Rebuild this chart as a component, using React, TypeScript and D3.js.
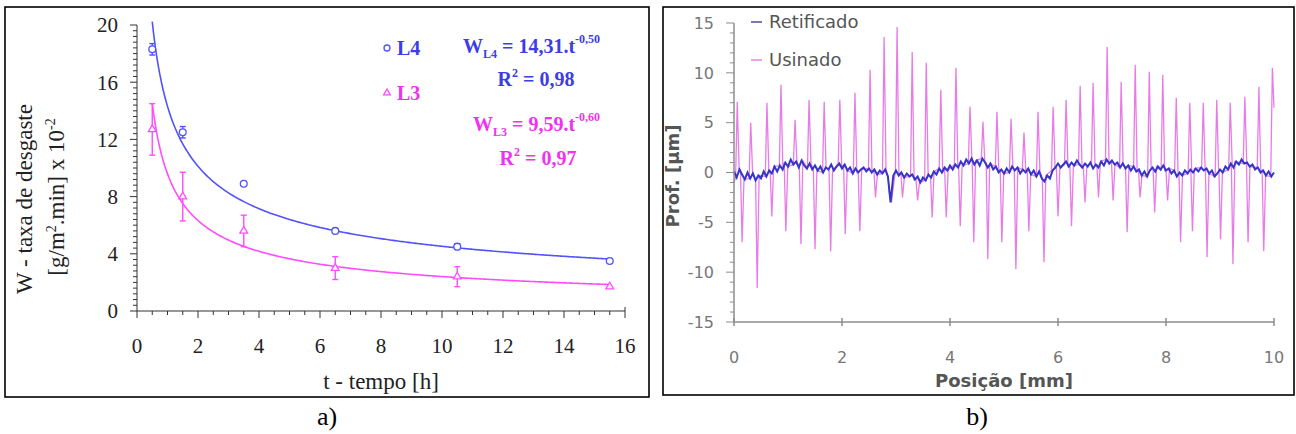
import React from 'react';
import * as d3 from 'd3';

// a) taxa de desgaste x tempo
const tempo = [0.5, 1.5, 3.5, 6.5, 10.5, 15.5];
const wL4 = [18.3, 12.5, 8.9, 5.6, 4.5, 3.5];
const wL4Err = [0.4, 0.4, 0, 0, 0.2, 0];
const wL3 = [12.7, 8.0, 5.6, 3.0, 2.4, 1.7];
const wL3Err = [1.8, 1.7, 1.1, 0.8, 0.7, 0];
const fitL4 = { a: 14.31, b: -0.5 };
const fitL3 = { a: 9.59, b: -0.6 };
const ticksT = [0, 2, 4, 6, 8, 10, 12, 14, 16];
const ticksW = [0, 4, 8, 12, 16, 20];

// b) perfil de rugosidade
const peakX = [0.06, 0.31, 0.61, 0.87, 1.13, 1.39, 1.67, 1.96, 2.24, 2.52, 2.78, 3.02, 3.30, 3.56, 3.83, 4.11, 4.37, 4.61, 4.87, 5.13, 5.37, 5.63, 5.91, 6.15, 6.41, 6.65, 6.91, 7.17, 7.43, 7.69, 7.94, 8.19, 8.44, 8.69, 8.94, 9.19, 9.46, 9.72, 9.97];
const peakY = [7.1, 5.0, 7.0, 8.8, 5.3, 7.3, 7.1, 7.3, 8.0, 10.3, 13.6, 14.6, 12.1, 11.0, 8.3, 10.5, 6.6, 5.1, 6.1, 5.4, 4.0, 6.1, 6.6, 7.3, 8.7, 9.0, 12.6, 9.1, 10.8, 10.1, 9.8, 7.5, 7.0, 7.0, 7.3, 7.0, 7.6, 8.6, 10.5];
const valleyX = [0.15, 0.43, 0.70, 0.96, 1.24, 1.50, 1.79, 2.06, 2.33, 2.62, 2.88, 3.12, 3.40, 3.67, 3.93, 4.19, 4.44, 4.70, 4.96, 5.22, 5.46, 5.74, 6.00, 6.25, 6.50, 6.75, 7.02, 7.28, 7.52, 7.79, 8.03, 8.27, 8.49, 8.76, 9.01, 9.24, 9.52, 9.81];
const valleyY = [-7.0, -11.6, -4.4, -5.9, -7.2, -7.7, -7.9, -6.2, -5.9, -2.5, -2.2, -2.5, -2.8, -4.5, -4.5, -5.4, -7.0, -8.7, -7.0, -9.7, -5.9, -9.0, -4.4, -5.4, -3.0, -2.5, -2.8, -6.0, -2.5, -4.0, -2.8, -7.0, -5.9, -8.5, -6.7, -9.2, -7.0, -7.9];
const usinadoStart = [0, -1.0];
const usinadoEnd = [10, 6.5];
// spikes are narrow: foot of each spike (mm before / after the tip)
const spikeFoot = [0.03, 0.035];
// retificado sampled every 0.05 mm
const retStep = 0.05;
const retificado = [
  0.1, -0.5, 0.3, -0.2, -0.7, 0.0, -0.6, -0.1, -0.8, -0.3,
  -0.6, 0.1, -0.4, 0.2, -0.1, 0.6, 0.1, 0.7, 0.3, 1.0,
  0.6, 1.3, 0.8, 1.1, 0.5, 1.2, 0.7, 0.4, 0.9, 0.3,
  0.7, 0.2, 0.6, 0.0, 0.5, 0.3, 0.8, 0.2, 0.6, 0.9,
  0.4, 0.8, 0.2, 0.5, -0.1, 0.4, 0.0, 0.3, 0.5, 0.1,
  0.4, 0.0, 0.3, -0.2, 0.2, -0.1, 0.3, -0.4, -3.0, -0.3,
  0.2, -0.3, 0.0, -0.5, -0.1, -0.4, -0.2, -0.7, -0.4, -1.0,
  -0.5, -0.8, -0.2, -0.5, 0.1, -0.2, 0.4, 0.0, 0.5, 0.2,
  0.7, 0.3, 0.8, 0.5, 1.1, 0.7, 1.3, 0.9, 1.4, 0.8,
  1.2, 0.7, 1.4, 1.0, 0.5, 0.9, 0.3, 0.6, 0.0, 0.3,
  -0.1, 0.4, 0.0, 0.6, 0.2, 0.5, -0.1, 0.3, 0.0, 0.4,
  -0.2, 0.2, -0.4, 0.1, -0.6, -0.9, -0.3, -0.6, 0.2, 0.5,
  0.9, 0.5, 0.8, 1.1, 0.6, 1.0, 0.7, 1.2, 0.8, 0.5,
  0.9, 0.6, 1.0, 0.4, 0.8, 0.5, 1.1, 0.7, 1.3, 0.9,
  1.2, 0.8, 1.0, 0.5, 0.9, 0.4, 0.7, 0.2, 0.6, 0.1,
  0.3, -0.3, 0.1, -0.4, 0.2, 0.5, 0.1, 0.6, 0.3, 0.7,
  0.2, 0.4, -0.1, 0.2, -0.4, 0.0, -0.3, 0.2, -0.1, 0.3,
  0.0, 0.4, 0.1, 0.5, 0.2, 0.4, -0.1, 0.2, -0.4, -0.1,
  0.3, 0.0, 0.6, 0.3, 0.9, 0.5, 1.1, 0.8, 1.3, 0.9,
  1.0, 0.6, 0.8, 0.3, 0.5, 0.0, 0.2, -0.3, 0.1, -0.4,
  0.0,
];
const ticksPos = [0, 2, 4, 6, 8, 10];
const ticksProf = [-15, -10, -5, 0, 5, 10, 15];

const BLUE = '#5252ff';
const BLUE_TXT = '#3c3ce8';
const MAG = '#ff4cff';
const MAG_TXT = '#f032f0';
const SERIF = '"Liberation Serif", "Times New Roman", serif';
const SANS = '"DejaVu Sans", Arial, sans-serif';

const xA = d3.scaleLinear().domain([0, 16]).range([137, 625]);
const yA = d3.scaleLinear().domain([0, 20]).range([311, 25]);
const xB = d3.scaleLinear().domain([0, 10]).range([734, 1274]);
const yB = d3.scaleLinear().domain([-15, 15]).range([322, 23]);

function fitPath(fit) {
  const ts = d3.range(0.5, 15.51, 0.05);
  return d3.line<number>()
    .x(t => xA(t))
    .y(t => yA(fit.a * Math.pow(t, fit.b)))(ts);
}

function ErrBar({ x, y, e, color }) {
  if (!e) return null;
  const px = xA(x);
  return (
    <g stroke={color} strokeWidth={1.4}>
      <line x1={px} x2={px} y1={yA(y - e)} y2={yA(y + e)} />
      <line x1={px - 3} x2={px + 3} y1={yA(y - e)} y2={yA(y - e)} />
      <line x1={px - 3} x2={px + 3} y1={yA(y + e)} y2={yA(y + e)} />
    </g>
  );
}

function PanelA() {
  const tri = d3.symbol(d3.symbolTriangle, 26)();
  const minorW = d3.range(0, 51).map(i => i * 0.4);
  const minorT = d3.range(0, 33).map(i => i * 0.5);
  return (
    <g>
      <rect x={5} y={7} width={644} height={390} fill="none" stroke="#000" strokeWidth={1.6} />
      <g stroke="#333" strokeWidth={1}>
        <line x1={xA(0)} x2={xA(0)} y1={yA(0)} y2={yA(20)} />
        <line x1={xA(0)} x2={xA(16)} y1={yA(0)} y2={yA(0)} />
        <line x1={xA(16)} x2={xA(16)} y1={yA(0)} y2={yA(0) - 4} />
        {minorW.map((v, i) => (
          <line key={'w' + i} x1={xA(0)} x2={xA(0) - (i % 10 === 0 ? 7 : 4)} y1={yA(v)} y2={yA(v)} />
        ))}
        {minorT.map((v, i) => (
          <line key={'t' + i} x1={xA(v)} x2={xA(v)} y1={yA(0)} y2={yA(0) + (i % 4 === 0 ? 7 : 4)} />
        ))}
      </g>
      <g fontFamily={SERIF} fontSize={21} fill="#222">
        {ticksW.map(v => (
          <text key={v} x={118} y={yA(v)} dy="0.35em" textAnchor="end">{v}</text>
        ))}
        {ticksT.map(v => (
          <text key={v} x={xA(v)} y={353} textAnchor="middle">{v}</text>
        ))}
      </g>
      <g fontFamily={SERIF} fontSize={23} fill="#222">
        <text x={381} y={389} textAnchor="middle">t - tempo [h]</text>
        <text transform="translate(24,199) rotate(-90)" textAnchor="middle" dy="0.35em">W - taxa de desgaste</text>
        <text transform="translate(56,197) rotate(-90)" textAnchor="middle" dy="0.35em">
          [g/m<tspan dy={-8} fontSize={14}>2</tspan><tspan dy={8}>.min] x 10</tspan><tspan dy={-9} fontSize={14}>-2</tspan>
        </text>
      </g>
      {/* curvas ajustadas */}
      <path d={fitPath(fitL4)} fill="none" stroke={BLUE} strokeWidth={1.6} />
      <path d={fitPath(fitL3)} fill="none" stroke={MAG} strokeWidth={1.6} />
      {tempo.map((t, i) => <ErrBar key={'e4' + i} x={t} y={wL4[i]} e={wL4Err[i]} color={BLUE} />)}
      {tempo.map((t, i) => <ErrBar key={'e3' + i} x={t} y={wL3[i]} e={wL3Err[i]} color={MAG} />)}
      {tempo.map((t, i) => (
        <circle key={'c' + i} cx={xA(t)} cy={yA(wL4[i])} r={3.4} fill="#fff" stroke={BLUE} strokeWidth={1.3} />
      ))}
      {tempo.map((t, i) => (
        <path key={'p' + i} d={tri} transform={`translate(${xA(t)},${yA(wL3[i])})`} fill="#fff" stroke={MAG} strokeWidth={1.3} />
      ))}
      <circle cx={387} cy={48} r={3} fill="#fff" stroke={BLUE} strokeWidth={1.3} />
      <path d={d3.symbol(d3.symbolTriangle, 20)()} transform="translate(387,93)" fill="#fff" stroke={MAG} strokeWidth={1.3} />
      <g fontFamily={SERIF} fontSize={20} fontWeight="bold">
        <text x={397} y={55} fill={BLUE_TXT}>L4</text>
        <text x={397} y={100} fill={MAG_TXT}>L3</text>
        <text x={463} y={53} fill={BLUE_TXT}>
          W<tspan dy={5} fontSize={12}>L4</tspan><tspan dy={-5}> = 14,31.t</tspan><tspan dy={-10} fontSize={12}>-0,50</tspan>
        </text>
        <text x={536} y={86} fill={BLUE_TXT} textAnchor="middle">
          R<tspan dy={-9} fontSize={12}>2</tspan><tspan dy={9}> = 0,98</tspan>
        </text>
        <text x={473} y={131} fill={MAG_TXT}>
          W<tspan dy={5} fontSize={12}>L3</tspan><tspan dy={-5}> = 9,59.t</tspan><tspan dy={-10} fontSize={12}>-0,60</tspan>
        </text>
        <text x={538} y={165} fill={MAG_TXT} textAnchor="middle">
          R<tspan dy={-9} fontSize={12}>2</tspan><tspan dy={9}> = 0,97</tspan>
        </text>
      </g>
    </g>
  );
}

// spike foot sits on the mean line, hidden under the retificado band
function baseAt(x) {
  const i = Math.max(0, Math.min(retificado.length - 1, Math.round(x / retStep)));
  return retificado[i];
}

function spike(pts, x, y) {
  const a = x - spikeFoot[0];
  const b = x + spikeFoot[1];
  pts.push([a, baseAt(a)], [x, y], [b, baseAt(b)]);
}

function PanelB() {
  const usinado = [usinadoStart];
  peakX.forEach((x, i) => {
    spike(usinado, x, peakY[i]);
    if (i < valleyX.length) spike(usinado, valleyX[i], valleyY[i]);
  });
  usinado.pop();
  usinado.push(usinadoEnd);
  const line = d3.line<number[]>().x(d => xB(d[0])).y(d => yB(d[1]));
  const ret = retificado.map((v, i) => [i * retStep, v]);
  const minorP = d3.range(-15, 16);
  return (
    <g>
      <rect x={663} y={7} width={631} height={388} fill="none" stroke="#000" strokeWidth={1.6} />
      <path d={line(usinado)} fill="none" stroke="#e46ee4" strokeWidth={1.3} strokeOpacity={0.9} />
      <path d={line(ret)} fill="none" stroke="#3535c8" strokeWidth={2} />
      <g stroke="#8c8c8c" strokeWidth={1.5}>
        <line x1={xB(0)} x2={xB(0)} y1={yB(-15)} y2={yB(15)} />
        <line x1={xB(0)} x2={xB(10)} y1={yB(-15)} y2={yB(-15)} />
        {minorP.map(v => (
          <line key={v} x1={xB(0)} x2={xB(0) - (v % 5 === 0 ? 8 : 4)} y1={yB(v)} y2={yB(v)} strokeWidth={1} />
        ))}
        {ticksPos.map(v => (
          <line key={v} x1={xB(v)} x2={xB(v)} y1={yB(-15) - 4} y2={yB(-15) + 4} />
        ))}
      </g>
      <g fontFamily={SANS} fontSize={16} fill="#777">
        {ticksProf.map(v => (
          <text key={v} x={714} y={yB(v)} dy="0.36em" textAnchor="end">{v}</text>
        ))}
        {ticksPos.map(v => (
          <text key={v} x={xB(v)} y={363} textAnchor="middle">{v}</text>
        ))}
      </g>
      <g fontFamily={SANS} fontSize={18} fontWeight="bold" fill="#555">
        <text x={1004} y={387} textAnchor="middle">Posição [mm]</text>
        <text transform="translate(673,176) rotate(-90)" textAnchor="middle" dy="0.36em">Prof. [µm]</text>
      </g>
      <line x1={751} x2={762} y1={22} y2={22} stroke="#7b7bb4" strokeWidth={2} />
      <line x1={751} x2={762} y1={60} y2={60} stroke="#e6a6e6" strokeWidth={2} />
      <g fontFamily={SANS} fontSize={18} fill="#555">
        <text x={769} y={22} dy="0.36em">Retificado</text>
        <text x={769} y={60} dy="0.36em">Usinado</text>
      </g>
    </g>
  );
}

export default function App() {
  return (
    <svg width={1296} height={434} style={{ position: 'absolute', left: 0, top: 0, background: '#fff' }}>
      <rect width={1296} height={434} fill="#fff" />
      <PanelA />
      <PanelB />
      <g fontFamily={SERIF} fontSize={26} fill="#000">
        <text x={327} y={425} textAnchor="middle">a)</text>
        <text x={977} y={425} textAnchor="middle">b)</text>
      </g>
    </svg>
  );
}
